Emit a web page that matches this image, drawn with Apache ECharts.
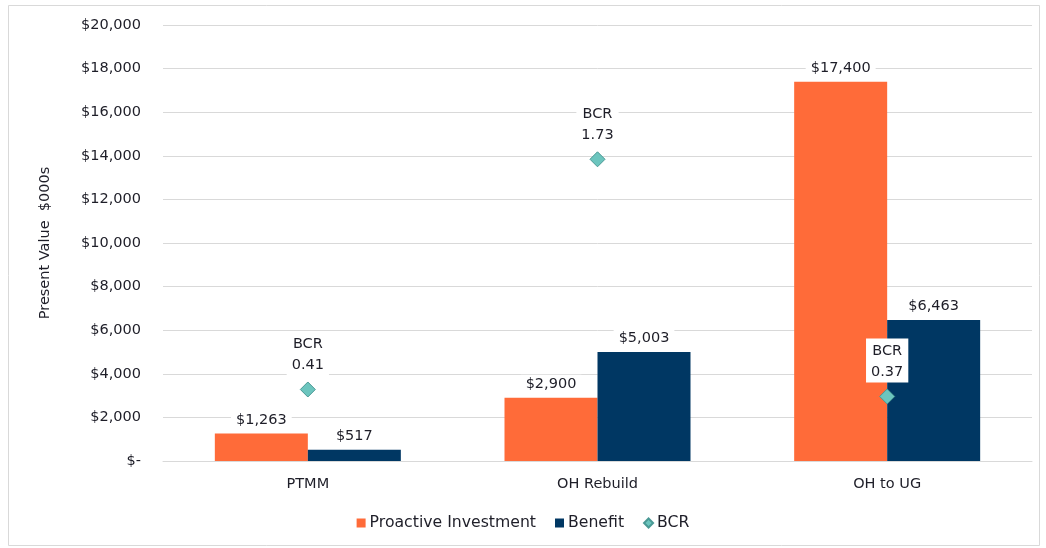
<!DOCTYPE html>
<html>
<head>
<meta charset="utf-8">
<script src="https://cdn.jsdelivr.net/npm/echarts@6/dist/echarts.min.js"></script>
<style>
  html, body { margin: 0; padding: 0; background: #fff; }
  #chart { width: 1046px; height: 548px; }
</style>
</head>
<body>
<div id="chart"></div>
<script>
// Programme options compared on present value ($000s)
const categories = ['PTMM', 'OH Rebuild', 'OH to UG'];
const investment = [1263, 2900, 17400];
const benefit = [517, 5003, 6463];
const bcr = [0.41, 1.73, 0.37];
const yTicks = { min: 0, max: 20000, interval: 2000 };

const FONT = 'DejaVu Sans';
const TEXT = '#1e1e28';

function money(v) {
  if (v === 0) return '$-';
  return '$' + v.toLocaleString('en-US');
}

const chart = echarts.init(document.getElementById('chart'));

const valueLabel = {
  show: true,
  position: 'top',
  distance: 4,
  formatter: p => money(p.value),
  fontFamily: FONT,
  fontSize: 14.5,
  color: TEXT,
  backgroundColor: '#ffffff',
  padding: [2, 5, 2, 5]
};

chart.setOption({
  backgroundColor: '#ffffff',
  animation: false,
  graphic: [{
    type: 'rect',
    shape: { x: 8.5, y: 5.5, width: 1031, height: 540 },
    style: { fill: 'none', stroke: '#d9d9d9', lineWidth: 1 },
    silent: true
  }],
  grid: { left: 163, right: 14, top: 25, bottom: 87 },
  legend: {
    bottom: 12,
    left: 'center',
    itemWidth: 9,
    itemHeight: 9,
    itemGap: 19,
    textStyle: { fontFamily: FONT, fontSize: 15.7, color: TEXT, padding: [0, 0, 0, -1] },
    data: [
      { name: 'Proactive Investment', icon: 'rect' },
      { name: 'Benefit', icon: 'rect' },
      { name: 'BCR', icon: 'diamond' }
    ]
  },
  xAxis: {
    type: 'category',
    data: categories,
    axisLine: { show: true, lineStyle: { color: '#d9d9d9' } },
    axisTick: { show: false },
    axisLabel: { fontFamily: FONT, fontSize: 14.5, color: TEXT, margin: 16 }
  },
  yAxis: [{
    type: 'value',
    min: yTicks.min,
    max: yTicks.max,
    interval: yTicks.interval,
    name: 'Present Value  $000s',
    nameLocation: 'middle',
    nameGap: 110,
    nameRotate: 90,
    nameTextStyle: { fontFamily: FONT, fontSize: 14.5, color: TEXT },
    axisLine: { show: false },
    axisTick: { show: false },
    axisLabel: {
      fontFamily: FONT, fontSize: 14.5, color: TEXT, margin: 22,
      formatter: v => money(v)
    },
    splitLine: { lineStyle: { color: '#d9d9d9' } }
  }, {
    type: 'value',
    min: 0,
    max: 2.5,
    show: false,
    splitLine: { show: false }
  }],
  series: [{
    name: 'Proactive Investment',
    type: 'bar',
    data: investment,
    barWidth: 93,
    barGap: '0%',
    itemStyle: { color: '#FF6B39' },
    label: valueLabel
  }, {
    name: 'Benefit',
    type: 'bar',
    data: benefit,
    barWidth: 93,
    barGap: '0%',
    itemStyle: { color: '#003763' },
    label: valueLabel
  }, {
    name: 'BCR',
    type: 'scatter',
    yAxisIndex: 1,
    data: bcr,
    symbol: 'diamond',
    symbolSize: 15,
    itemStyle: { color: '#6CC5BE', borderColor: '#4A9995', borderWidth: 1, opacity: 1 },
    z: 5,
    label: {
      show: true,
      position: 'top',
      distance: 6,
      formatter: p => 'BCR\n' + p.value.toFixed(2),
      fontFamily: FONT,
      fontSize: 14.5,
      lineHeight: 21,
      color: TEXT,
      align: 'center',
      backgroundColor: '#ffffff',
      padding: [2, 5, 0, 5]
    }
  }]
});
</script>
</body>
</html>
